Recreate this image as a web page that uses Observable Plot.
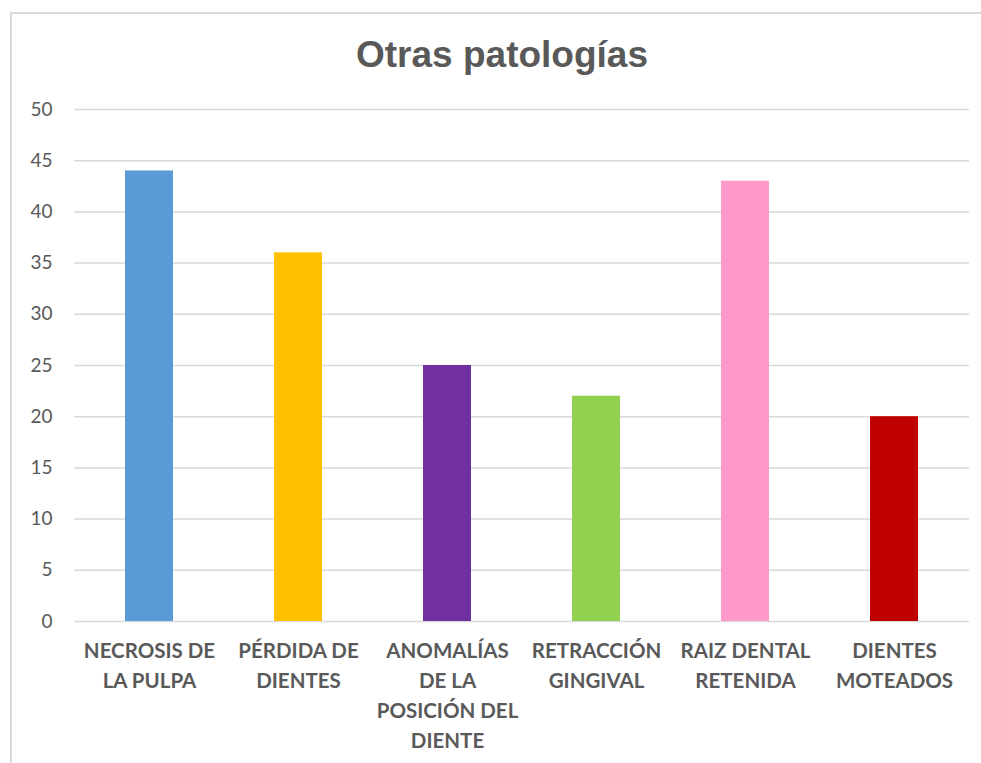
<!DOCTYPE html>
<html>
<head>
<meta charset="utf-8">
<script src="https://cdn.jsdelivr.net/npm/d3@7"></script>
<script src="https://cdn.jsdelivr.net/npm/@observablehq/plot@0.6"></script>
<style>
  html, body { margin: 0; padding: 0; background: #fff; }
  #wrap { position: relative; width: 981px; height: 763px; overflow: hidden; }
  #frame { position: absolute; left: 10px; top: 12px; width: 1000px; height: 800px; border: 2px solid #d9d9d9; box-sizing: border-box; }
  #title { position: absolute; left: 0; width: 1004px; top: 30px; text-align: center; font-family: "Liberation Sans", Arial, sans-serif; font-weight: bold; font-size: 37px; color: #595959; line-height: 50px; }
  #chart { position: absolute; left: 0; top: 0; }
</style>
</head>
<body>
<div id="wrap">
  <div id="frame"></div>
  <div id="chart"></div>
  <div id="title">Otras patologías</div>
</div>
<script>
const categories = ["NECROSIS DE LA PULPA", "PÉRDIDA DE DIENTES", "ANOMALÍAS DE LA POSICIÓN DEL DIENTE", "RETRACCIÓN GINGIVAL", "RAIZ DENTAL RETENIDA", "DIENTES MOTEADOS"];
const tickLabels = ["NECROSIS DE\nLA PULPA", "PÉRDIDA DE\nDIENTES", "ANOMALÍAS\nDE LA\nPOSICIÓN DEL\nDIENTE", "RETRACCIÓN\nGINGIVAL", "RAIZ DENTAL\nRETENIDA", "DIENTES\nMOTEADOS"];
const values = [44, 36, 25, 22, 43, 20];
const colors = ["#5B9BD5", "#FFC000", "#7030A0", "#92D050", "#FF99CC", "#C00000"];
const yTicks = [0, 5, 10, 15, 20, 25, 30, 35, 40, 45, 50];

const data = categories.map((c, i) => ({category: c, value: values[i], color: colors[i]}));
const labelOf = new Map(categories.map((c, i) => [c, tickLabels[i]]));

const chart = Plot.plot({
  width: 981,
  height: 763,
  marginLeft: 74,
  marginRight: 12,
  marginTop: 109,
  marginBottom: 142,
  style: {background: "transparent", color: "#595959"},
  x: {domain: categories, paddingInner: 0.68, paddingOuter: 0.34, label: null},
  y: {domain: [0, 50], label: null},
  marks: [
    Plot.ruleY(yTicks, {stroke: "#d9d9d9", strokeWidth: 1.5}),
    Plot.barY(data, {x: "category", y: "value", fill: "color"}),
    Plot.axisY(yTicks, {tickSize: 0, tickPadding: 22, fontSize: 19, fontFamily: "Lato, 'Open Sans', sans-serif", fill: "#595959", label: null}),
    Plot.axisX({tickSize: 0, tickPadding: 15, fontSize: 20.5, fontWeight: "bold", fontFamily: "Lato, 'Open Sans', sans-serif", fill: "#595959", lineHeight: 1.46, tickFormat: d => labelOf.get(d), label: null})
  ]
});
document.getElementById("chart").appendChild(chart);
</script>
</body>
</html>
